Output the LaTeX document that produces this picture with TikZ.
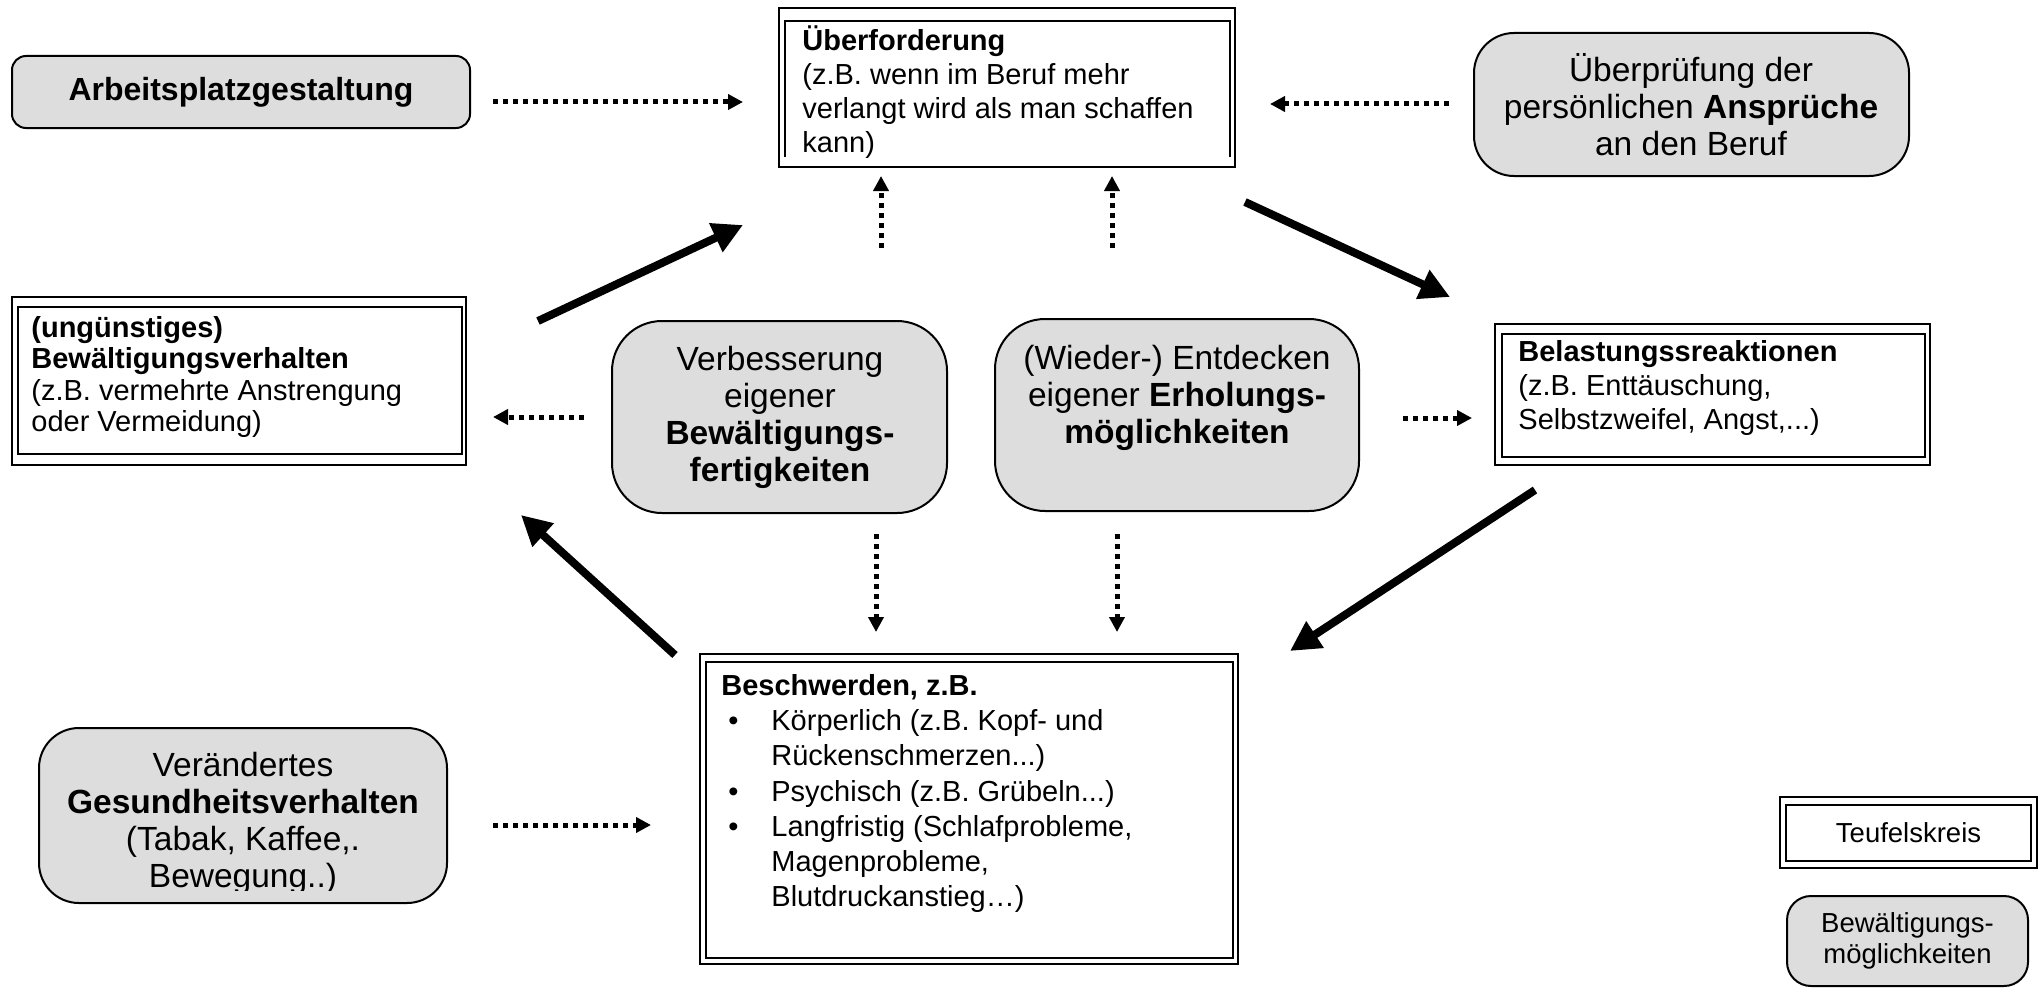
\documentclass[tikz,border=0pt]{standalone}
\usepackage{fontspec}
\setmainfont{Liberation Sans}
\usetikzlibrary{arrows.meta,fit}
\definecolor{boxgray}{HTML}{DDDDDD}
\newcommand\bodysize{\fontsize{14.5}{17}\selectfont}
\newcommand\tightsize{\fontsize{14.5}{15.75}\selectfont}
\newcommand\listsize{\fontsize{14.5}{17.6}\selectfont}
\newcommand\graysize{\fontsize{16.75}{18.5}\selectfont}
\newcommand\titlesize{\fontsize{16}{18.5}\selectfont}
\newcommand\legendsize{\fontsize{13.75}{15.5}\selectfont}
\newcommand\bodystrut{\rule{0pt}{14pt}}
\newcommand\graystrut{\rule{0pt}{16pt}}
\newcommand\itemmark{\makebox[25pt][l]{\hspace*{3.5pt}\textbullet}}
\newcommand\itemgap{\hspace*{25pt}}
\tikzset{
  outerframe/.style={draw, line width=0.8pt, inner sep=0pt},
  innerframe/.style={draw, line width=1.3pt, inner sep=0pt},
  graybox/.style={draw, line width=1pt, fill=boxgray, inner sep=0pt},
  bodytext/.style={inner sep=0pt, align=left, font=\bodysize},
  graytext/.style={inner sep=0pt, align=center, font=\graysize},
  legendtext/.style={inner sep=0pt, align=center, font=\legendsize},
  cyclearrow/.style={line width=4pt, -{Triangle[length=15pt,width=15pt]}},
  helparrow/.style={line width=2.5pt, dash pattern=on 2.5pt off 2.5pt,
                    -{Triangle[length=7.5pt,width=7.5pt]}},
}
\begin{document}
\begin{tikzpicture}[x=0.5pt,y=-0.5pt]
\useasboundingbox (0,0) rectangle (2043,990);

% ---- vicious circle: framed boxes ----
\node[outerframe, fit={(779,8) (1235,167)}] (ueb) {};
\draw[line width=1.3pt] (785,157) -- (785,21) -- (1230,21) -- (1230,157);
\node[bodytext, anchor=north west] (uebT) at (802,22)
  {\bodystrut\textbf{Überforderung}\\(z.B. wenn im Beruf mehr\\verlangt wird als man schaffen\\kann)};

\node[outerframe, fit={(12,297) (466,465)}] (bew) {};
\node[innerframe, fit={(18,307) (462,454)}] (bewIn) {};
\node[bodytext, font=\tightsize, anchor=north west] (bewT) at (31,309)
  {\bodystrut\textbf{(ungünstiges)}\\\textbf{Bewältigungsverhalten}\\(z.B. vermehrte Anstrengung\\oder Vermeidung)};

\node[outerframe, fit={(1495,324) (1930,465)}] (bel) {};
\node[innerframe, fit={(1502,334) (1925,457)}] (belIn) {};
\node[bodytext, anchor=north west] (belT) at (1518,333)
  {\bodystrut\textbf{Belastungssreaktionen}\\(z.B. Enttäuschung,\\Selbstzweifel, Angst,...)};

\node[outerframe, fit={(700,654) (1238,964)}] (bes) {};
\node[innerframe, fit={(706,662) (1233,958)}] (besIn) {};
\node[bodytext, font=\listsize, anchor=north west] (besT) at (721,667)
  {\bodystrut\textbf{Beschwerden, z.B.}\\
   \itemmark Körperlich (z.B. Kopf- und\\
   \itemgap Rückenschmerzen...)\\
   \itemmark Psychisch (z.B. Grübeln...)\\
   \itemmark Langfristig (Schlafprobleme,\\
   \itemgap Magenprobleme,\\
   \itemgap Blutdruckanstieg…)};

% ---- coping options: grey rounded boxes ----
\node[graybox, rounded corners=7pt, fit={(12,56) (470,128)}] (arb) {};
\node[graytext, font=\titlesize] (arbT) at (arb.center) {\textbf{Arbeitsplatzgestaltung}};

\node[graybox, rounded corners=20pt, fit={(1474,33) (1909,176)}] (anspr) {};
\node[graytext, anchor=north] (ansprT) at (1691,49)
  {\graystrut Überprüfung der\\persönlichen \textbf{Ansprüche}\\an den Beruf};

\node[graybox, rounded corners=25pt, fit={(612,321) (947,513)}] (verb) {};
\node[graytext, anchor=north] (verbT) at (780,338)
  {\graystrut Verbesserung\\eigener\\\textbf{Bewältigungs-}\\\textbf{fertigkeiten}};

\node[graybox, rounded corners=25pt, fit={(995,319) (1359,511)}] (erh) {};
\node[graytext, anchor=north] (erhT) at (1177,337)
  {\graystrut(Wieder-) Entdecken\\eigener \textbf{Erholungs-}\\\textbf{möglichkeiten}};

\node[graybox, rounded corners=20pt, fit={(39,728) (447,903)}] (ges) {};
\begin{scope}
  \clip (41,730) rectangle (445,890);
  \node[graytext, anchor=north] (gesT) at (243,744)
    {\graystrut Verändertes\\\textbf{Gesundheitsverhalten}\\(Tabak, Kaffee,.\\Bewegung..)};
\end{scope}

% ---- legend ----
\node[outerframe, fit={(1780,797) (2037,868)}] (legA) {};
\node[innerframe, fit={(1786,805) (2031,861)}] (legAIn) {};
\node[legendtext] (legAT) at (legAIn.center) {Teufelskreis};
\node[graybox, rounded corners=12pt, fit={(1787,896) (2028,986)}] (legB) {};
\node[legendtext] (legBT) at (legB.center) {Bewältigungs-\\möglichkeiten};

% ---- arrow end points ----
\coordinate (h1s) at (493,102);  \coordinate (h1e) at (743,102);
\coordinate (h2s) at (1449,104); \coordinate (h2e) at (1270,104);
\coordinate (h3s) at (881,248);  \coordinate (h3e) at (881,176);
\coordinate (h4s) at (1112,248); \coordinate (h4e) at (1112,176);
\coordinate (h5s) at (584,417);  \coordinate (h5e) at (493,417);
\coordinate (h6s) at (1403,418); \coordinate (h6e) at (1472,418);
\coordinate (h7s) at (876,534);  \coordinate (h7e) at (876,632);
\coordinate (h8s) at (1117,534); \coordinate (h8e) at (1117,632);
\coordinate (h9s) at (493,825);  \coordinate (h9e) at (651,825);

\coordinate (c1s) at (538,321);  \coordinate (c1e) at (743,225);
\coordinate (c2s) at (1245,202); \coordinate (c2e) at (1450,297);
\coordinate (c3s) at (1535,490); \coordinate (c3e) at (1290,651);
\coordinate (c4s) at (675,655);  \coordinate (c4e) at (521,515);

% ---- dotted influence arrows ----
\foreach \a in {h1,h2,h3,h4,h5,h6,h7,h8,h9}
  \draw[helparrow] (\a s) -- (\a e);

% ---- thick cycle arrows ----
\foreach \a in {c1,c2,c3,c4}
  \draw[cyclearrow] (\a s) -- (\a e);
\end{tikzpicture}
\end{document}
